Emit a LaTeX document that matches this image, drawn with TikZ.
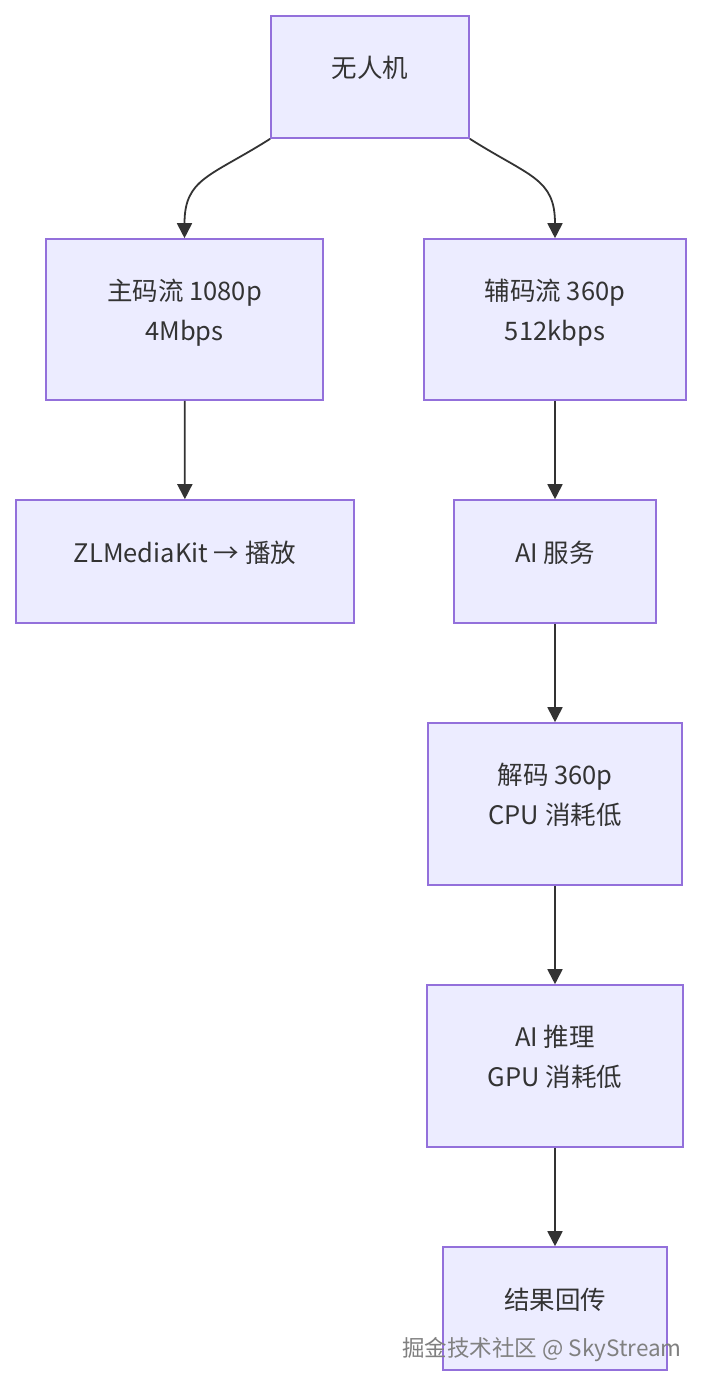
\documentclass[tikz,border=0pt]{standalone}
\usepackage{fontspec}
\setmainfont{Noto Sans CJK SC}
\usetikzlibrary{arrows.meta}
\definecolor{boxfill}{HTML}{ECECFF}
\definecolor{boxline}{HTML}{9370DB}
\definecolor{ink}{HTML}{333333}
\tikzset{
	box/.style={draw=boxline,fill=boxfill,line width=1.6pt,rectangle,align=center,
		inner sep=0pt,text=ink,text depth=20pt,font=\fontsize{25.5}{40}\selectfont},
	link/.style={draw=ink,line width=1.8pt,-{Triangle[length=15pt,width=15pt]}},
	mark text/.style={text=gray,font=\fontsize{22.5}{24}\selectfont}
}
\begin{document}
\begin{tikzpicture}[x=1pt,y=-1pt]
	\useasboundingbox[fill=white] (0,0) rectangle (702,1386);
	\node[box,minimum width=198pt,minimum height=122pt] (uav) at (370,77) {无人机};
	\node[box,minimum width=277pt,minimum height=161pt] (main) at (184.5,319.5) {主码流 1080p\\4Mbps};
	\node[box,minimum width=262pt,minimum height=161pt] (sub) at (555,319.5) {辅码流 360p\\512kbps};
	\node[box,minimum width=338pt,minimum height=123pt] (play) at (185,561.5) {ZLMediaKit → 播放};
	\node[box,minimum width=202pt,minimum height=123pt] (ai) at (555,561.5) {AI 服务};
	\node[box,minimum width=254pt,minimum height=162pt] (dec) at (555,804) {解码 360p\\CPU 消耗低};
	\node[box,minimum width=256pt,minimum height=162pt] (infer) at (555,1066) {AI 推理\\GPU 消耗低};
	\node[box,minimum width=224pt,minimum height=123pt] (back) at (555,1308.5) {结果回传};
	
	\draw[link] (uav.south west) .. controls +(-60,38) and +(0,-60) .. (main.north);
	\draw[link] (uav.south east) .. controls +(60,38) and +(0,-60) .. (sub.north);
	\draw[link] (main) -- (play);
	\draw[link] (sub) -- (ai);
	\draw[link] (ai) -- (dec);
	\draw[link] (dec) -- (infer);
	\draw[link] (infer) -- (back);
	
	\node[mark text] (wm) at (542,1350) {掘金技术社区 @ SkyStream};
\end{tikzpicture}
\end{document}
